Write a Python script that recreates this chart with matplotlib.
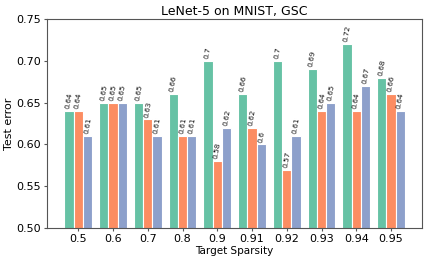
import matplotlib
matplotlib.use("Agg")
import matplotlib.pyplot as plt
import numpy as np

sparsity = ["0.5", "0.6", "0.7", "0.8", "0.9", "0.91", "0.92", "0.93", "0.94", "0.95"]
serie_a = [0.64, 0.65, 0.65, 0.66, 0.7, 0.66, 0.7, 0.69, 0.72, 0.68]
serie_b = [0.64, 0.65, 0.63, 0.61, 0.58, 0.62, 0.57, 0.64, 0.64, 0.66]
serie_c = [0.61, 0.65, 0.61, 0.61, 0.62, 0.6, 0.61, 0.65, 0.67, 0.64]
farver = ["#66c2a5", "#fc8d62", "#8da0cb"]

fig, ax = plt.subplots(figsize=(4.28, 2.58), dpi=100)
fig.subplots_adjust(left=0.1105, right=0.986, top=0.926, bottom=0.116)

x = np.arange(len(sparsity))
bredde = 0.8 / 3
for i, serie in enumerate([serie_a, serie_b, serie_c]):
    pos = x + (i - 1) * bredde
    ax.bar(pos, serie, bredde, color=farver[i], edgecolor="white", linewidth=0.8)
    for px, v in zip(pos, serie):
        ax.text(px, v + 0.002, "%g" % v, rotation=80, ha="center", va="bottom",
                fontsize=5.3, color="#111111")

ax.set_ylim(0.5, 0.75)
ax.set_xticks(x)
ax.set_xticklabels(sparsity)
ax.set_yticks([0.5, 0.55, 0.6, 0.65, 0.7, 0.75])
ax.tick_params(labelsize=8, length=2.5, pad=2, color="#555555")
ax.set_xlabel("Target Sparsity", fontsize=7.5, labelpad=1)
ax.set_ylabel("Test error", fontsize=8, labelpad=2)
ax.set_title("LeNet-5 on MNIST, GSC", fontsize=9, pad=3)
for s in ax.spines.values():
    s.set_color("#555555")

plt.savefig("out.png", dpi=100)
